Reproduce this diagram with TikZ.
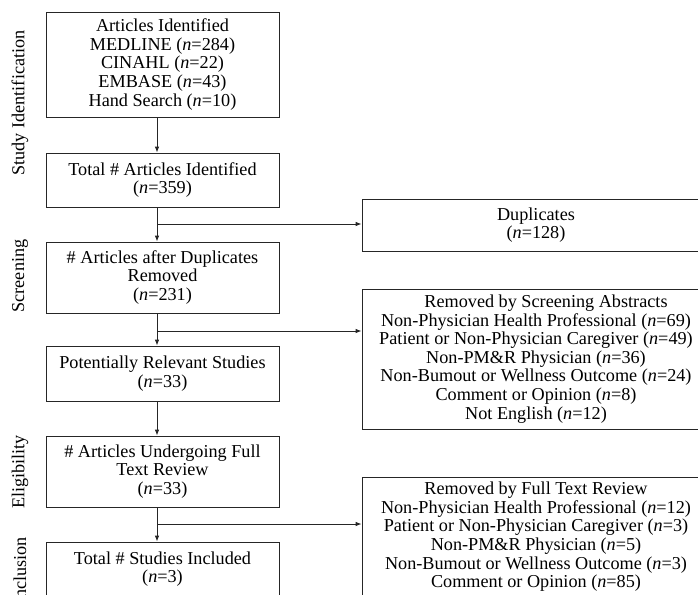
\documentclass[tikz,border=0pt]{standalone}
\usepackage{fontspec}
\setmainfont{Liberation Serif}
\usetikzlibrary{arrows.meta}
\begin{document}
\begin{tikzpicture}[x=1pt,y=-1pt,
  txt/.style={font=\fontsize{18.2}{18.6}\selectfont},
  lbox/.style={txt, draw=black!85, line width=0.8pt, minimum width=233pt, align=center, inner sep=0pt},
  rbox/.style={txt, draw=black!85, line width=0.8pt, minimum width=348pt, align=center, inner sep=0pt},
  side/.style={txt, rotate=90},
  conn/.style={draw=black!85, line width=0.8pt, -{Latex[length=6pt,width=4.5pt]}},
  ]
\useasboundingbox (0,0) rectangle (698,594);
% column of connectors
\coordinate (ax) at (157,0);
% left boxes
\node[lbox, minimum height=105pt] (b1) at (162.5,64.5) {Articles Identified\\MEDLINE (\textit{n}=284)\\CINAHL (\textit{n}=22)\\EMBASE (\textit{n}=43)\\Hand Search (\textit{n}=10)};
\node[lbox, minimum height=54pt] (b2) at (162.5,180) {Total \# Articles Identified\\(\textit{n}=359)};
\node[lbox, minimum height=71pt] (b3) at (162.5,277.5) {\# Articles after Duplicates\\Removed\\(\textit{n}=231)};
\node[lbox, minimum height=55pt] (b4) at (162.5,373.5) {Potentially Relevant Studies\\(\textit{n}=33)};
\node[lbox, minimum height=71pt] (b5) at (162.5,471.5) {\# Articles Undergoing Full\\Text Review\\(\textit{n}=33)};
\node[lbox, minimum height=54pt] (b6) at (162.5,569) {Total \# Studies Included\\(\textit{n}=3)};
% right boxes
\node[rbox, minimum height=52pt] (dup) at (536,225) {Duplicates\\(\textit{n}=128)};
\node[rbox, minimum height=140pt] (sa) at (536,359) {\hspace*{20pt}Removed by Screening Abstracts\\Non-Physician Health Professional (\textit{n}=69)\\Patient or Non-Physician Caregiver (\textit{n}=49)\\Non-PM\&R Physician (\textit{n}=36)\\Non-Bumout or Wellness Outcome (\textit{n}=24)\\Comment or Opinion (\textit{n}=8)\\Not English (\textit{n}=12)};
\node[rbox, minimum height=140pt] (ft) at (536,547) {Removed by Full Text Review\\Non-Physician Health Professional (\textit{n}=12)\\Patient or Non-Physician Caregiver (\textit{n}=3)\\Non-PM\&R Physician (\textit{n}=5)\\Non-Bumout or Wellness Outcome (\textit{n}=3)\\Comment or Opinion (\textit{n}=85)\\\strut};
% side labels
\node[side] (l1) at (20,103) {Study Identification};
\node[side] (l2) at (20,276) {Screening};
\node[side] (l3) at (20,472) {Eligibility};
\node[side] (l4) at (20,571) {Inclusion};
% branch points
\coordinate (j1) at (157,224);
\coordinate (j2) at (157,331);
\coordinate (j3) at (157,524);
% vertical connectors
\draw[conn] (b1.south -| ax) -- (b2.north -| ax);
\draw[conn] (b2.south -| ax) -- (b3.north -| ax);
\draw[conn] (b3.south -| ax) -- (b4.north -| ax);
\draw[conn] (b4.south -| ax) -- (b5.north -| ax);
\draw[conn] (b5.south -| ax) -- (b6.north -| ax);
% horizontal connectors
\draw[conn] (j1) -- (j1 -| dup.west);
\draw[conn] (j2) -- (j2 -| sa.west);
\draw[conn] (j3) -- (j3 -| ft.west);
\end{tikzpicture}
\end{document}
